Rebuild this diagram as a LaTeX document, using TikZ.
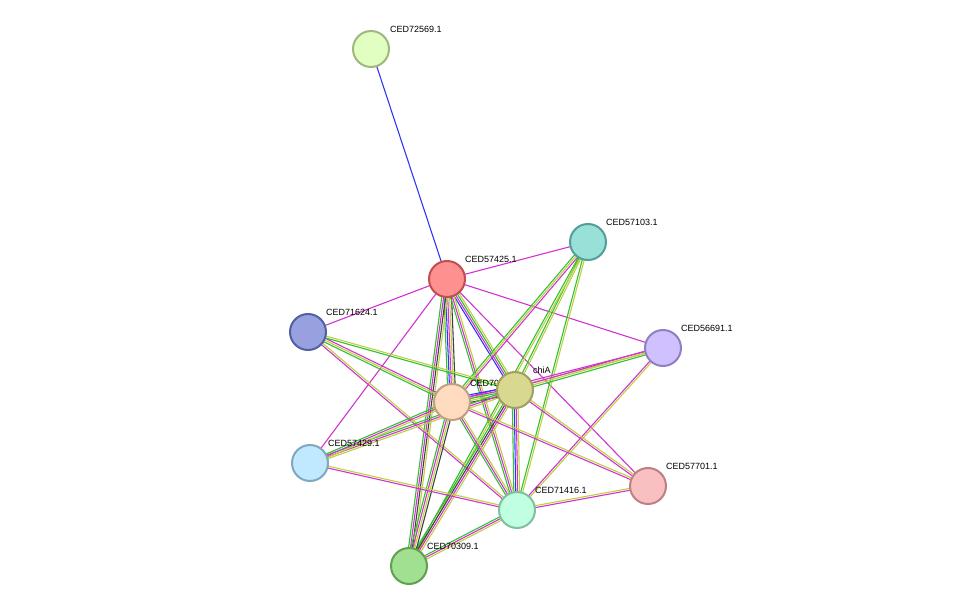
\documentclass[tikz,border=0pt]{standalone}
\usepackage{fontspec}
\setmainfont{Liberation Sans}
\usetikzlibrary{calc}
\definecolor{eg}{HTML}{33C033}
\definecolor{eb}{HTML}{3333FF}
\definecolor{em}{HTML}{D033D0}
\definecolor{ey}{HTML}{BCD040}
\definecolor{ek}{HTML}{404040}
\tikzset{prot/.style={circle,minimum size=36pt,inner sep=0pt,line width=2pt},
lab/.style={font=\fontsize{9}{10}\selectfont,anchor=south west,inner sep=1pt}}
\newcommand{\pedge}[3]{%
\foreach \c [count=\i] in {#3} {\pgfmathsetmacro{\off}{0}}%
\foreach \c [count=\i] in {#3} {\xdef\ncount{\i}}%
\foreach \c [count=\i] in {#3} {%
\pgfmathsetmacro{\off}{(\i-(\ncount+1)/2)*1.9}%
\draw[\c,line width=1.1pt] ($(#1)!\off pt!90:(#2)$) -- ($(#2)!\off pt!-90:(#1)$);}}
\begin{document}
\begin{tikzpicture}[x=1pt,y=-1pt]
\useasboundingbox (0,0) rectangle (975,612);
\coordinate (a) at (371,49);
\coordinate (b) at (447,279);
\coordinate (c) at (588,242);
\coordinate (d) at (308,332);
\coordinate (e) at (663,348);
\coordinate (f) at (515,390);
\coordinate (g) at (452,402);
\coordinate (h) at (310,463);
\coordinate (i) at (648,486);
\coordinate (j) at (517,510);
\coordinate (k) at (409,566);
\pedge{a}{b}{eb}
\pedge{b}{c}{em}
\pedge{b}{d}{em}
\pedge{b}{e}{em}
\pedge{b}{g}{eg,eb,em,ey,ek}
\pedge{b}{f}{eb,em,eg,ey}
\pedge{b}{j}{eg,em,ey}
\pedge{b}{k}{eg,em,ek,ey}
\pedge{b}{h}{em}
\pedge{b}{i}{em}
\pedge{c}{g}{eg,ey,em}
\pedge{c}{f}{eg,ey}
\pedge{c}{j}{eg,ey}
\pedge{c}{k}{eg,ey}
\pedge{d}{g}{eg,ey,em}
\pedge{d}{f}{eg,ey}
\pedge{d}{j}{em,ey}
\pedge{e}{g}{em,ey}
\pedge{e}{f}{em,ey,eg}
\pedge{e}{j}{em,ey}
\pedge{f}{g}{eb,em,eg,ey,ek}
\pedge{f}{j}{eg,eb,em,ey}
\pedge{f}{k}{eg,ek,em,ey}
\pedge{f}{h}{eg,em,ey}
\pedge{f}{i}{em,ey}
\pedge{g}{h}{eg,em,ey}
\pedge{g}{j}{eg,em,ey}
\pedge{g}{k}{eg,em,ey,ek}
\pedge{g}{i}{em,ey}
\pedge{h}{j}{em,ey}
\pedge{j}{i}{em,ey}
\pedge{j}{k}{eg,em,ey}
\node[prot,fill={rgb,255:red,224;green,255;blue,192},draw={rgb,255:red,160;green,184;blue,128}] (A) at (a) {};
\node[prot,fill={rgb,255:red,255;green,144;blue,144},draw={rgb,255:red,192;green,80;blue,80}] (B) at (b) {};
\node[prot,fill={rgb,255:red,152;green,224;blue,216},draw={rgb,255:red,80;green,160;blue,152}] (C) at (c) {};
\node[prot,fill={rgb,255:red,152;green,160;blue,224},draw={rgb,255:red,80;green,96;blue,160}] (D) at (d) {};
\node[prot,fill={rgb,255:red,208;green,192;blue,255},draw={rgb,255:red,144;green,128;blue,192}] (E) at (e) {};
\node[prot,fill={rgb,255:red,255;green,220;blue,192},draw={rgb,255:red,192;green,160;blue,128}] (G) at (g) {};
\node[lab] (LG) at (469,388) {CED70000.1};
\node[prot,fill={rgb,255:red,216;green,216;blue,144},draw={rgb,255:red,160;green,160;blue,96}] (F) at (f) {};
\node[prot,fill={rgb,255:red,192;green,232;blue,255},draw={rgb,255:red,128;green,168;blue,192}] (H) at (h) {};
\node[prot,fill={rgb,255:red,248;green,192;blue,192},draw={rgb,255:red,192;green,128;blue,128}] (I) at (i) {};
\node[prot,fill={rgb,255:red,192;green,255;blue,224},draw={rgb,255:red,128;green,192;blue,160}] (J) at (j) {};
\node[prot,fill={rgb,255:red,160;green,224;blue,144},draw={rgb,255:red,96;green,160;blue,80}] (K) at (k) {};
\node[lab] at (389,34) {CED72569.1};
\node[lab] at (464,264) {CED57425.1};
\node[lab] at (605,227) {CED57103.1};
\node[lab] at (325,317) {CED71624.1};
\node[lab] at (680,333) {CED56691.1};
\node[lab] at (532,375) {chiA};
\node[lab] at (327,448) {CED57429.1};
\node[lab] at (665,471) {CED57701.1};
\node[lab] at (534,495) {CED71416.1};
\node[lab] at (426,551) {CED70309.1};
\end{tikzpicture}
\end{document}
